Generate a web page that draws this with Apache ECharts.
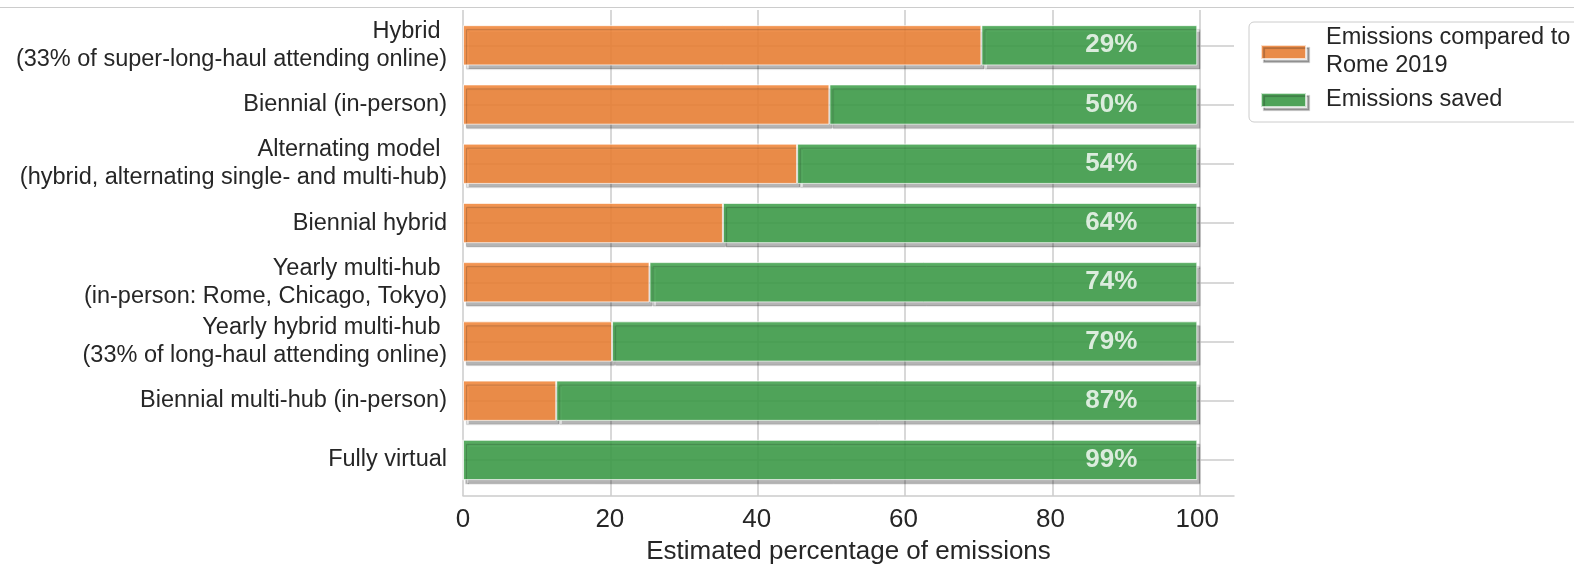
<!DOCTYPE html>
<html>
<head>
<meta charset="utf-8">
<script src="https://cdn.jsdelivr.net/npm/echarts@6/dist/echarts.min.js"></script>
<style>html,body{margin:0;padding:0;background:#fff}#c{width:1574px;height:570px}</style>
</head>
<body>
<div id="c"></div>
<script>
const categories = [
  "Hybrid \n(33% of super-long-haul attending online)",
  "Biennial (in-person)",
  "Alternating model \n(hybrid, alternating single- and multi-hub)",
  "Biennial hybrid",
  "Yearly multi-hub \n(in-person: Rome, Chicago, Tokyo)",
  "Yearly hybrid multi-hub \n(33% of long-haul attending online)",
  "Biennial multi-hub (in-person)",
  "Fully virtual"
];
const emissions = [70.6, 49.9, 45.5, 35.4, 25.4, 20.3, 12.7, 0];
const savedLabels = [29, 50, 54, 64, 74, 79, 87, 99];
const xTicks = [0, 20, 40, 60, 80, 100];

const saved = emissions.map(v => 100 - v);
const FONT = 'Liberation Sans, Arial, sans-serif';
const TXT = '#262626';
const GRIDC = '#cbcbcb';

const chart = echarts.init(document.getElementById('c'), null, {renderer: 'canvas'});
const band = 59.24;
const firstCenter = 45.3;
const gTop = firstCenter - band / 2;
const gHeight = band * 8;
const axisY = 496;

const barStyle = {
  opacity: 0.88,
  shadowColor: 'rgba(0,0,0,0.33)', shadowBlur: 1, shadowOffsetX: 3, shadowOffsetY: 4,
  borderColor: 'rgba(255,255,255,0.8)', borderWidth: 1
};

chart.setOption({
  animation: false,
  textStyle: {fontFamily: FONT},
  graphic: [{
    type: 'line', shape: {x1: 0, y1: 7.5, x2: 1574, y2: 7.5},
    style: {stroke: '#cccccc', lineWidth: 1.2}, z: 0
  }],
  legend: {
    data: ['Emissions compared to\nRome 2019', 'Emissions saved'],
    orient: 'vertical', left: 1249, top: 22,
    borderColor: '#cccccc', borderWidth: 1, borderRadius: 5,
    padding: [2, 30, 8, 11], itemGap: 6,
    itemWidth: 45, itemHeight: 14, icon: 'rect',
    itemStyle: {shadowColor: 'rgba(0,0,0,0.33)', shadowBlur: 1, shadowOffsetX: 3, shadowOffsetY: 3},
    textStyle: {fontSize: 23.5, lineHeight: 28, color: TXT, fontFamily: FONT, padding: [0, 0, 0, 15]}
  },
  grid: [
    {left: 463, right: 340, top: gTop, height: gHeight, outerBoundsMode: 'none', containLabel: false},
    {left: 463, width: 737, top: 10, height: axisY - 10, outerBoundsMode: 'none', containLabel: false},
    {left: 463, right: 340, top: firstCenter, height: band * 7, outerBoundsMode: 'none', containLabel: false}
  ],
  xAxis: [
    {
      gridIndex: 0, type: 'value', min: 0, max: 105, interval: 20,
      offset: axisY - (gTop + gHeight),
      axisLine: {show: true, lineStyle: {color: '#cccccc', width: 1.5}},
      axisTick: {show: false}, splitLine: {show: false},
      axisLabel: {
        fontSize: 26, color: TXT, margin: 11, showMaxLabel: false,
        formatter: v => (xTicks.indexOf(v) >= 0 ? String(v) : '')
      },
      name: 'Estimated percentage of emissions', nameLocation: 'middle', nameGap: 43,
      nameTextStyle: {fontSize: 26, color: TXT}
    },
    {
      gridIndex: 1, type: 'value', min: 0, max: 100, interval: 20,
      axisLine: {show: false}, axisTick: {show: false}, axisLabel: {show: false},
      splitLine: {show: true, lineStyle: {color: GRIDC, width: 1.5}}
    },
    {
      gridIndex: 2, type: 'value', min: 0, max: 105, show: false
    }
  ],
  yAxis: [
    {
      gridIndex: 0, type: 'category', data: categories, inverse: true,
      axisLine: {show: false}, axisTick: {show: false}, splitLine: {show: false},
      axisLabel: {fontSize: 23.5, lineHeight: 28, color: TXT, margin: 16, align: 'right', padding: [9, 0, 0, 0]}
    },
    {gridIndex: 1, type: 'value', show: false},
    {
      gridIndex: 2, type: 'value', min: 0, max: 7, interval: 1, inverse: true,
      axisLine: {show: false}, axisTick: {show: false}, axisLabel: {show: false},
      splitLine: {show: true, lineStyle: {color: GRIDC, width: 1.5}}
    }
  ],
  series: [
    {
      name: 'Emissions compared to\nRome 2019', type: 'bar', stack: 'tot',
      xAxisIndex: 0, yAxisIndex: 0, barWidth: '68%', z: 2,
      itemStyle: Object.assign({color: '#F08539'}, barStyle),
      data: emissions
    },
    {
      name: 'Emissions saved', type: 'bar', stack: 'tot',
      xAxisIndex: 0, yAxisIndex: 0, barWidth: '68%', z: 2,
      itemStyle: Object.assign({color: '#41A14C'}, barStyle),
      data: saved
    },
    {
      name: 'labels', type: 'scatter', xAxisIndex: 0, yAxisIndex: 0, z: 10,
      symbolSize: 0, silent: true,
      data: savedLabels.map((v, i) => [100, i]),
      label: {
        show: true, position: 'left', distance: 60,
        formatter: p => savedLabels[p.dataIndex] + '%',
        fontSize: 26, fontWeight: 'bold', color: '#ffffff', fontFamily: FONT
      }
    }
  ]
});
</script>
</body>
</html>
